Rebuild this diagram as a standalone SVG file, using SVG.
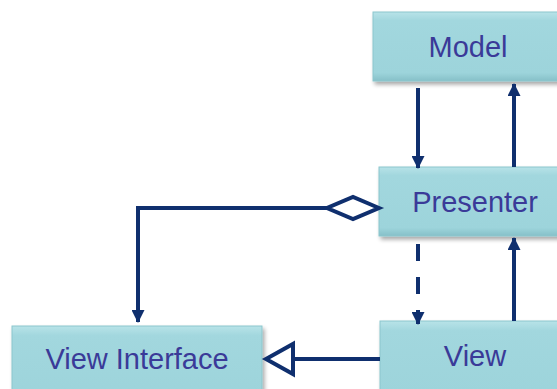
<svg xmlns="http://www.w3.org/2000/svg" width="557" height="389" viewBox="0 0 557 389">
<defs>
<linearGradient id="bg" x1="0" y1="0" x2="0" y2="1">
<stop offset="0" stop-color="#b8e3e8"/>
<stop offset="0.12" stop-color="#a2d7de"/>
<stop offset="0.88" stop-color="#9dd4db"/>
<stop offset="1" stop-color="#86c0c8"/>
</linearGradient>
<filter id="sh" x="-10%" y="-10%" width="130%" height="140%">
<feGaussianBlur in="SourceAlpha" stdDeviation="2"/>
<feOffset dx="2" dy="3"/>
<feComponentTransfer><feFuncA type="linear" slope="0.35"/></feComponentTransfer>
<feMerge><feMergeNode/><feMergeNode in="SourceGraphic"/></feMerge>
</filter>
<marker id="ah" viewBox="0 0 13 13" refX="12" refY="6.5" markerWidth="13" markerHeight="13" markerUnits="userSpaceOnUse" orient="auto">
<path d="M0,0 L13,6.5 L0,13 Z" fill="#0f2f6e"/>
</marker>
</defs>
<style>
.box{fill:url(#bg);stroke:#8cc6cd;stroke-width:1;filter:url(#sh)}
.lbl{font-family:"Liberation Sans",Arial,sans-serif;font-size:29px;fill:#3a3a98;text-anchor:middle;dominant-baseline:central}
.c{stroke:#0f2f6e;stroke-width:4;fill:none}
</style>
<g id="model"><rect class="box" x="373" y="12" width="200" height="69"/><text class="lbl" x="468" y="47">Model</text></g>
<g id="presenter"><rect class="box" x="379" y="167" width="194" height="69"/><text class="lbl" x="475" y="202">Presenter</text></g>
<g id="view"><rect class="box" x="380" y="321" width="194" height="80"/><text class="lbl" x="475" y="356">View</text></g>
<g id="view-interface"><rect class="box" x="12" y="326" width="250" height="80"/><text class="lbl" x="137" y="359">View Interface</text></g>
<g id="connectors">
<line class="c" x1="418" y1="88" x2="418" y2="168" marker-end="url(#ah)"/>
<line class="c" x1="514" y1="167" x2="514" y2="84" marker-end="url(#ah)"/>
<line class="c" x1="418" y1="244" x2="418" y2="324" stroke-dasharray="17,16" marker-end="url(#ah)"/>
<line class="c" x1="514" y1="321" x2="514" y2="238" marker-end="url(#ah)"/>
<polyline class="c" points="327,208 138,208 138,322" marker-end="url(#ah)"/>
<path d="M379,208 L353,197 L327,208 L353,219 Z" fill="#fff" stroke="#0f2f6e" stroke-width="4" stroke-linejoin="miter"/>
<line class="c" x1="380" y1="359" x2="293" y2="359"/>
<path d="M266,359 L293,344 L293,374 Z" fill="#fff" stroke="#0f2f6e" stroke-width="4"/>
</g>
</svg>
